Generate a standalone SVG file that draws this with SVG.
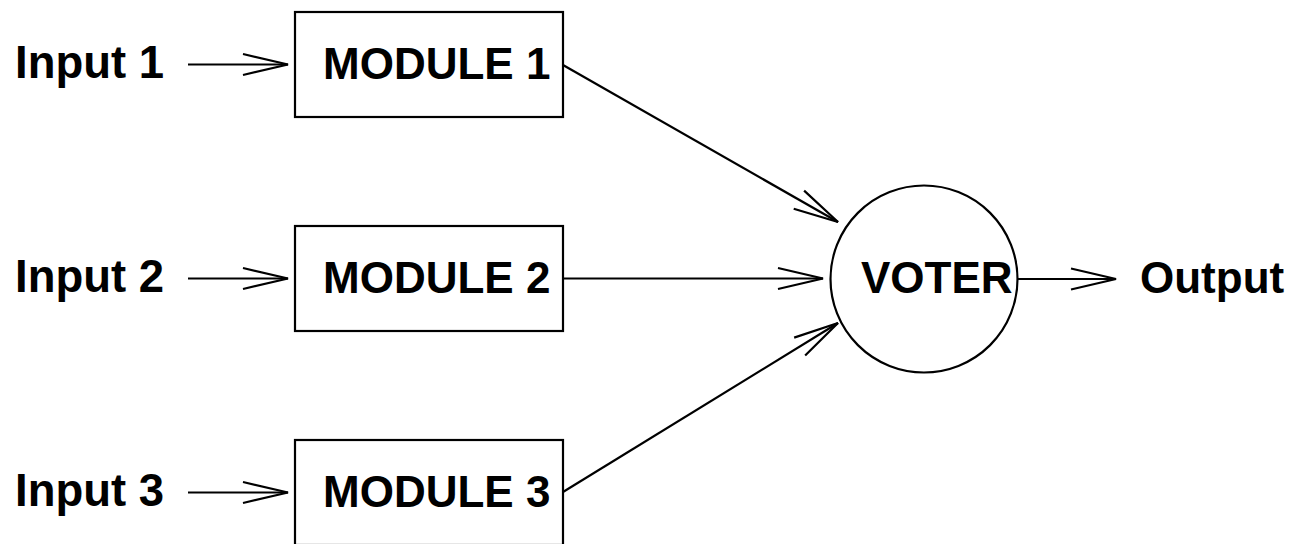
<svg xmlns="http://www.w3.org/2000/svg" width="1303" height="544" viewBox="0 0 1303 544">
<style>
.box{fill:#fff;stroke:#000;stroke-width:2.2}
.lbl{font-family:"Liberation Sans",Arial,sans-serif;font-weight:bold;font-size:44px;fill:#000}
.in{font-size:46px}
.con{stroke:#000;stroke-width:2.2;fill:none;marker-end:url(#ah)}
</style>
<defs>
<marker id="ah" markerUnits="userSpaceOnUse" markerWidth="60" markerHeight="30" viewBox="-50 -15 60 30" refX="0" refY="0" orient="auto" overflow="visible">
<path d="M-45,-10.5 L0,0 L-45,10.5" fill="none" stroke="#000" stroke-width="2.2"/>
</marker>
</defs>
<g id="input1"><text class="lbl in" x="15" y="78" textLength="149" lengthAdjust="spacingAndGlyphs">Input 1</text></g>
<g id="input2"><text class="lbl in" x="15" y="292" textLength="149" lengthAdjust="spacingAndGlyphs">Input 2</text></g>
<g id="input3"><text class="lbl in" x="15" y="506" textLength="149" lengthAdjust="spacingAndGlyphs">Input 3</text></g>
<g id="module1"><rect class="box" x="295" y="12" width="268" height="105"/><text class="lbl" x="323" y="79">MODULE 1</text></g>
<g id="module2"><rect class="box" x="295" y="226" width="268" height="105"/><text class="lbl" x="323" y="293">MODULE 2</text></g>
<g id="module3"><rect class="box" x="295" y="440" width="268" height="105"/><text class="lbl" x="323" y="507">MODULE 3</text></g>
<g id="voter"><circle cx="924" cy="279" r="93.5" fill="#fff" stroke="#000" stroke-width="2.2"/><text class="lbl" x="861" y="293">VOTER</text></g>
<g id="output"><text class="lbl" x="1140" y="293">Output</text></g>
<g id="connectors">
<line class="con" x1="188" y1="64.5" x2="288" y2="64.5"/>
<line class="con" x1="188" y1="278.5" x2="288" y2="278.5"/>
<line class="con" x1="188" y1="492.5" x2="288" y2="492.5"/>
<line class="con" x1="563" y1="65" x2="838" y2="222"/>
<line class="con" x1="563" y1="278.5" x2="823" y2="278.5"/>
<line class="con" x1="563" y1="492" x2="838" y2="323"/>
<line class="con" x1="1017.5" y1="279" x2="1116" y2="279"/>
</g>
</svg>
